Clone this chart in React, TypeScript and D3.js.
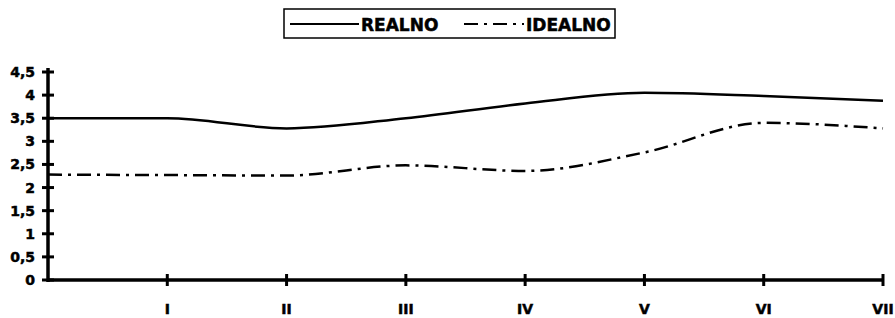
import React from 'react';
import * as d3 from 'd3';

// categories on the x axis (position 0 is the origin, no label)
const categories = ['', 'I', 'II', 'III', 'IV', 'V', 'VI', 'VII'];
const realno = [3.5, 3.5, 3.28, 3.5, 3.82, 4.05, 3.98, 3.88];
const idealno = [2.28, 2.27, 2.26, 2.48, 2.36, 2.76, 3.4, 3.28];
const yTicks = [0, 0.5, 1, 1.5, 2, 2.5, 3, 3.5, 4, 4.5];

const width = 895;
const height = 318;
const font = 'DejaVu Sans, Arial, sans-serif';
// scanned labels look heavier than plain bold
const heavy = { stroke: '#000', strokeWidth: 0.5 };

const App: React.FC = () => {
  const x = d3.scaleLinear().domain([0, categories.length - 1]).range([48, 883]);
  const y = d3.scaleLinear().domain([0, 4.5]).range([280, 72]);

  const line = d3
    .line<number>()
    .x((_, i) => x(i))
    .y(d => y(d))
    .curve(d3.curveMonotoneX);

  const fmt = (v: number) => String(v).replace('.', ',');

  return (
    <svg
      width={width}
      height={height}
      style={{ position: 'absolute', left: 0, top: 0, background: '#fff' }}
    >
      {/* legend */}
      <g>
        <rect x={284} y={9} width={331} height={29} fill="#fff" stroke="#000" strokeWidth={1.5} />
        <line x1={290} x2={359} y1={24} y2={24} stroke="#000" strokeWidth={2} />
        <text x={361} y={31} fontFamily={font} fontWeight="bold" fontSize={17} {...heavy}>REALNO</text>
        <line x1={464} x2={524} y1={24} y2={24} stroke="#000" strokeWidth={2} strokeDasharray="14,6,3,6" />
        <text x={526} y={31} fontFamily={font} fontWeight="bold" fontSize={17} {...heavy}>IDEALNO</text>
      </g>

      {/* y axis */}
      <line x1={x(0)} x2={x(0)} y1={y(4.5) - 4} y2={y(0) + 2} stroke="#000" strokeWidth={3.5} />
      {yTicks.map(t => (
        <g key={t}>
          <line x1={x(0) - 6} x2={x(0) + 6} y1={y(t)} y2={y(t)} stroke="#000" strokeWidth={3} />
          <text
            x={35}
            y={y(t) + 5}
            textAnchor="end"
            fontFamily={font}
            fontWeight="bold"
            fontSize={14}
            {...heavy}
          >
            {fmt(t)}
          </text>
        </g>
      ))}

      {/* x axis */}
      <line x1={x(0)} x2={x(categories.length - 1) + 1} y1={y(0)} y2={y(0)} stroke="#000" strokeWidth={3.5} />
      {categories.map((c, i) =>
        i === 0 ? null : (
          <g key={c}>
            <line x1={x(i)} x2={x(i)} y1={y(0) - 6} y2={y(0) + 6} stroke="#000" strokeWidth={3} />
            <text
              x={x(i)}
              y={314}
              textAnchor="middle"
              fontFamily={font}
              fontWeight="bold"
              fontSize={14}
              {...heavy}
            >
              {c}
            </text>
          </g>
        )
      )}

      {/* series */}
      <path d={line(realno) ?? ''} fill="none" stroke="#000" strokeWidth={2.5} />
      <path d={line(idealno) ?? ''} fill="none" stroke="#000" strokeWidth={2.5} strokeDasharray="14,6,3,6" />
    </svg>
  );
};

export default App;
